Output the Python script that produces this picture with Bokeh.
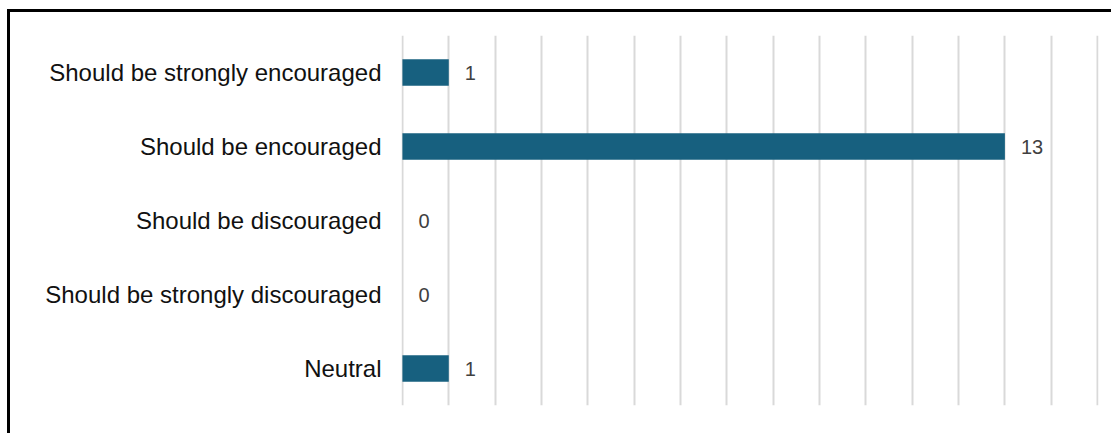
from bokeh.plotting import figure
from bokeh.models import FactorRange, Range1d, SingleIntervalTicker, ColumnDataSource
from bokeh.core.properties import value
from bokeh.embed import file_html
from bokeh.resources import INLINE

categories = ["Should be strongly encouraged", "Should be encouraged", "Should be discouraged",
              "Should be strongly discouraged", "Neutral"]
counts = [1, 13, 0, 0, 1]

src = ColumnDataSource(dict(cat=categories, val=counts, lab=[str(v) for v in counts]))

p = figure(width=1104, height=424, output_backend="svg", toolbar_location=None,
           y_range=FactorRange(factors=list(reversed(categories)), range_padding=0),
           x_range=Range1d(-0.02, 15.02),
           min_border_left=391, min_border_right=16, min_border_top=23, min_border_bottom=31,
           styles={"border-left": "3px solid #000", "border-top": "3px solid #000",
                   "margin-left": "7px", "margin-top": "9px"})
p.outline_line_color = None
p.hbar(y="cat", right="val", left=0, height=0.36, source=src,
       fill_color="#17607f", line_color=None)
p.text(x="val", y="cat", text="lab", source=src, x_offset=16, text_baseline="middle",
       text_align="left", text_font=value("Liberation Sans"), text_font_size=value("20px"),
       text_color="#404040")

p.xaxis.visible = False
p.xaxis.ticker = SingleIntervalTicker(interval=1)
p.xgrid.ticker = SingleIntervalTicker(interval=1)
p.xgrid.grid_line_color = "#d9d9d9"
p.xgrid.grid_line_width = 2
p.ygrid.grid_line_color = None

ya = p.yaxis[0]
ya.axis_line_color = None
ya.major_tick_line_color = None
ya.minor_tick_line_color = None
ya.major_tick_out = 0
ya.major_tick_in = 0
ya.major_label_standoff = 20
ya.major_label_text_font = "Liberation Sans"
ya.major_label_text_font_size = "24px"
ya.major_label_text_color = "#111111"

open("out.html", "w").write(file_html(p, INLINE))
